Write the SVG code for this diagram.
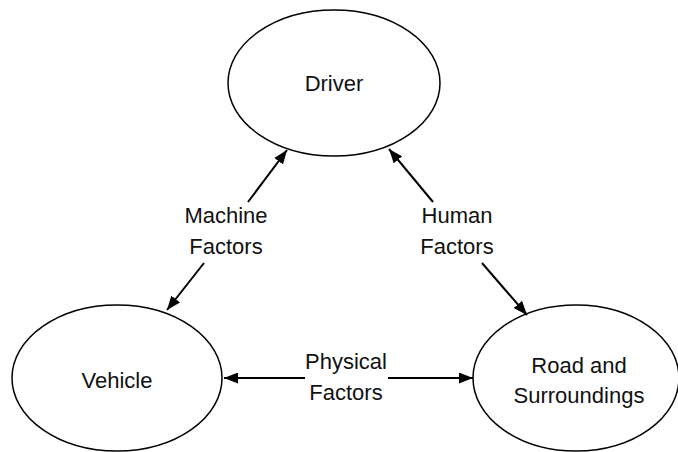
<svg xmlns="http://www.w3.org/2000/svg" width="678" height="452" viewBox="0 0 678 452">
<defs>
<marker id="ah" viewBox="0 0 14 11" refX="14" refY="5.5" markerWidth="14" markerHeight="11" markerUnits="userSpaceOnUse" orient="auto">
<path d="M0,0 L14,5.5 L0,11 Z" fill="#000"/>
</marker>
<style>
.node{fill:#fff;stroke:#000;stroke-width:1.5}
.lbl{font-family:"Liberation Sans",Arial,sans-serif;font-size:22px;fill:#111;text-anchor:middle}
.edge{stroke:#000;stroke-width:2;fill:none;marker-end:url(#ah)}
</style>
</defs>
<rect width="678" height="452" fill="#fff"/>
<g id="driver">
<ellipse class="node" cx="334" cy="83" rx="106" ry="73"/>
<text class="lbl" x="334" y="91">Driver</text>
</g>
<g id="vehicle">
<ellipse class="node" cx="117" cy="378" rx="105" ry="73"/>
<text class="lbl" x="117" y="388">Vehicle</text>
</g>
<g id="road">
<ellipse class="node" cx="576" cy="378" rx="103" ry="73"/>
<text class="lbl" x="579" y="373">Road and</text>
<text class="lbl" x="579" y="403">Surroundings</text>
</g>
<g id="connectors">
<line class="edge" x1="248" y1="202" x2="287" y2="150"/>
<line class="edge" x1="204" y1="263" x2="167" y2="310"/>
<line class="edge" x1="433" y1="202" x2="389" y2="149"/>
<line class="edge" x1="482" y1="263" x2="527" y2="315"/>
<line class="edge" x1="305" y1="378" x2="224" y2="378"/>
<line class="edge" x1="388" y1="378" x2="473" y2="378"/>
</g>
<g id="labels">
<text class="lbl" x="226" y="223">Machine</text>
<text class="lbl" x="226" y="254">Factors</text>
<text class="lbl" x="457" y="223">Human</text>
<text class="lbl" x="457" y="254">Factors</text>
<text class="lbl" x="346" y="369">Physical</text>
<text class="lbl" x="346" y="400">Factors</text>
</g>
</svg>
